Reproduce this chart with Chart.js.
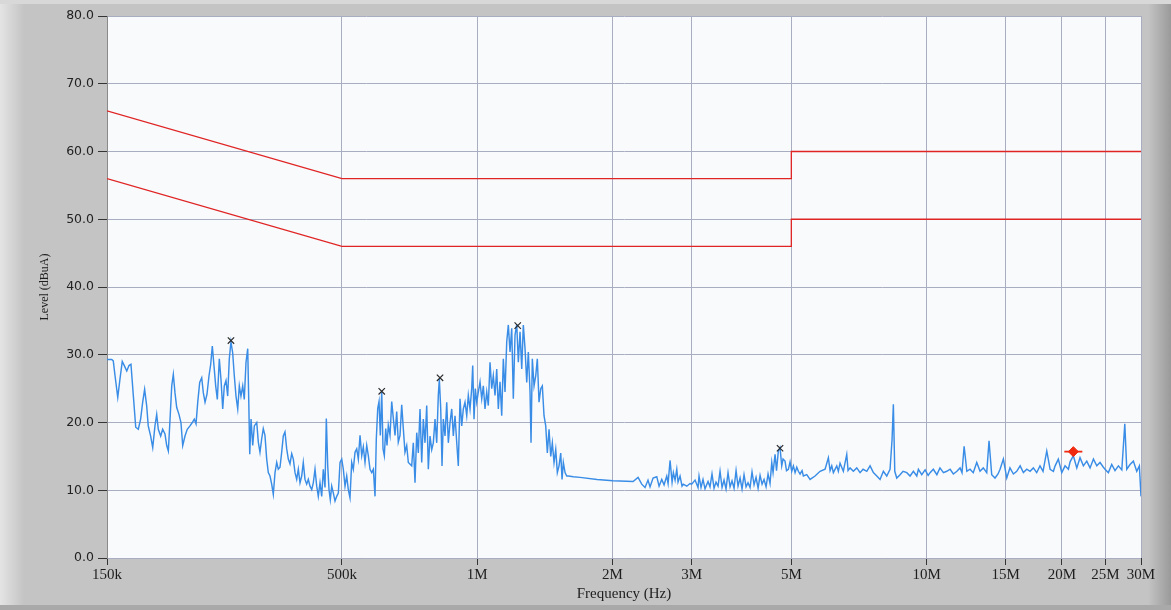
<!DOCTYPE html>
<html>
<head>
<meta charset="utf-8">
<script src="https://cdn.jsdelivr.net/npm/chart.js@4"></script>
<style>
  html, body { margin: 0; padding: 0; background: #c4c4c4; }
  #wrap { width: 1171px; height: 610px; }
</style>
</head>
<body>
<div id="wrap"><canvas id="emi" width="1171" height="610"></canvas></div>
<script>
// Conducted emission scan, frequency in kHz, level in dBuA
const scanFreqKHz = [
  150.0,153.7,154.9,156.3,158.5,160.3,162.2,163.9,166.0,167.9,169.6,171.7,173.8,176.1,178.2,180.1,181.9,183.8,185.3,187.6,
  189.6,191.8,193.5,195.1,197.5,199.5,201.9,203.7,205.4,207.2,209.0,210.7,212.5,214.4,216.9,219.1,221.1,223.7,226.3,229.5,
  232.2,234.6,236.7,238.8,241.2,243.7,245.7,247.9,250.4,253.0,255.2,257.3,259.5,261.8,264.0,266.7,269.1,271.4,273.6,276.0,
  278.4,280.7,283.1,285.6,288.0,290.5,293.1,295.5,298.0,300.7,303.1,305.8,308.5,310.1,311.7,313.8,316.5,319.1,323.1,
  325.7,328.5,331.4,334.1,337.0,340.0,342.8,345.8,348.8,351.7,354.8,357.9,360.8,364.0,367.1,370.2,373.4,376.7,379.8,383.1,
  386.5,389.7,393.1,396.5,399.8,403.3,406.8,410.1,413.7,417.3,420.8,424.5,428.2,431.7,435.5,439.3,442.9,446.8,450.7,454.4,
  458.4,461.5,464.8,467.9,471.0,474.4,478.3,482.5,486.7,490.8,495.1,499.4,503.5,507.9,512.3,516.5,521.0,525.6,529.9,534.6,
  539.3,543.7,548.5,553.3,557.8,562.7,567.6,572.3,577.3,582.4,587.2,592.3,596.2,600.6,604.6,608.6,613.0,617.1,621.2,625.7,
  629.8,634.0,639.6,645.2,650.5,656.2,661.9,667.3,673.2,679.1,684.7,690.6,696.7,702.5,
  714.8,720.7,727.0,733.4,739.4,745.9,752.4,758.6,765.2,771.9,778.3,785.1,792.0,798.5,805.5,812.5,819.2,823.5,829.4,834.9,
  840.5,847.9,855.3,862.3,869.9,877.5,884.7,892.4,900.3,907.6,915.6,923.6,931.2,939.3,947.6,955.3,963.7,972.1,977.1,983.7,
  990.2,997.4,1005.6,1014.4,1023.3,1031.7,1040.7,1049.8,1058.4,1067.7,1077.0,1085.9,1095.4,1105.0,1114.1,1123.8,1133.7,1143.0,1153.0,1163.1,
  1172.7,1182.9,1193.3,1203.1,1213.7,1224.3,1234.4,1245.2,1256.1,1266.4,1277.5,1288.7,1299.3,1310.7,1317.4,1326.2,1337.9,1349.6,1360.6,1372.5,
  1384.5,1395.9,1408.1,1420.4,1432.2,1444.7,1457.4,1469.4,1482.2,1495.2,1507.5,1520.7,1534.0,1544.3,1554.6,1568.2,1581.9,1594.9,1636.3,1693.4,
  1848,2005,2222,2280,2323,2363,2399,2424,2462,2509,2539,2574,2605,2641,2659,2686,2714,2732,2756,2780,
  2798,2827,2856,2875,2926,2975,3001,3053,3100,3116,
  3148,3180,3213,3263,3296,3330,3365,3399,3435,3470,3506,3542,3578,3615,3653,3690,3728,3767,3805,3845,
  3884,3924,3965,4005,4047,4088,4131,4173,4217,4260,4304,4348,4393,4438,4483,4523,4553,4600,4635,4678,
  4719,4760,4792,4841,4878,4925,4968,5011,5053,5097,5141,5183,5229,5283,5318,5411,5504,5647,5793,5944,
  6045,6098,6151,6202,6311,6362,6418,6527,6642,6687,6756,6871,6992,7111,7222,7360,7485,7613,7747,7878,
  8013,8153,8292,8378,8434,8495,8582,8729,8864,9034,9188,9345,9509,9588,9756,9923,10080,10180,10350,10540,
  10710,10900,11090,11280,11470,11680,11870,11990,12120,12290,12490,12700,12930,13150,13370,13610,13770,13960,14200,14420,
  14570,14820,15080,15330,15600,15870,16150,16420,16710,16990,17280,17580,17730,17880,18160,18510,18830,19150,19320,19640,
  19990,20330,20680,20860,21210,21590,21950,22330,22720,23110,23510,23920,24320,24740,24950,25380,25820,26260,26720,27190,
  27610,27890,28360,28850,29350,29750,30000
];
const scanLevel = [
  29.3,29.3,29.1,26.9,23.7,26.4,29.0,28.4,27.6,28.4,28.6,23.9,19.3,19.0,20.5,23.0,24.9,22.5,19.5,18.0,
  16.3,19.5,21.2,19.0,18.0,19.0,18.3,16.6,15.8,20.5,25.4,27.1,24.4,22.2,21.2,20.0,16.6,18.0,19.0,19.5,
  20.0,20.5,19.8,23.0,25.9,26.6,24.4,23.0,24.2,26.9,28.6,31.3,28.4,25.4,23.4,29.4,26.2,22.0,25.4,26.2,
  23.9,29.4,31.9,30.3,26.9,23.9,22.0,25.4,23.9,25.4,23.4,28.9,30.9,23.4,15.3,20.5,16.6,19.5,20.0,
  17.1,15.6,17.6,19.1,18.1,14.6,12.6,12.1,10.9,9.4,12.6,14.1,13.1,13.4,15.6,18.0,18.6,16.1,14.6,13.9,
  15.4,14.6,12.6,11.6,13.1,11.1,12.1,14.1,11.6,10.9,11.6,10.6,10.1,11.1,13.1,10.6,9.1,11.1,9.1,13.1,
  10.4,20.6,13.6,10.1,8.6,10.6,9.6,8.4,9.1,9.6,14.1,14.6,13.1,10.6,12.1,10.1,8.9,14.1,13.1,15.6,
  16.1,14.6,18.1,15.1,16.4,14.1,16.6,15.1,13.1,12.6,13.1,9.1,17.6,22.1,23.1,18.1,24.6,16.1,15.1,19.1,
  16.6,19.6,18.1,23.1,20.6,18.1,21.6,17.1,18.1,22.6,19.1,15.6,16.6,14.1,
  13.6,17.0,11.1,18.5,15.5,22.0,14.1,20.5,17.0,22.5,13.1,18.0,16.0,17.0,20.5,17.0,24.0,26.4,22.0,13.6,
  20.5,18.0,23.0,17.0,20.0,22.0,18.0,21.0,17.0,13.6,23.5,19.5,22.0,23.0,21.0,24.0,22.0,25.0,28.4,20.5,
  25.0,23.0,24.5,26.0,23.5,25.4,22.0,24.5,22.5,28.9,25.0,26.9,24.0,27.9,22.0,26.0,21.0,29.4,24.5,31.9,
  34.4,30.4,33.9,23.5,32.9,34.5,28.9,33.4,27.9,34.4,30.9,25.9,30.4,24.5,17.0,29.4,25.4,26.9,29.4,23.0,
  25.0,25.4,21.0,19.5,15.5,19.0,15.0,17.0,14.1,16.0,12.6,13.6,15.5,11.6,14.1,12.6,12.1,12.1,12.0,11.9,
  11.6,11.4,11.3,11.9,10.9,10.4,11.5,10.5,11.8,12.0,10.6,11.6,10.8,12.1,11.0,14.4,11.2,12.6,11.5,13.1,
  11.2,12.1,10.6,10.9,10.6,11.0,10.9,11.5,10.4,12.1,
  10.4,11.6,10.2,11.3,10.5,12.4,10.3,11.2,10.6,12.8,10.4,11.5,10.2,12.6,10.5,11.4,10.3,12.9,10.6,11.8,
  10.2,12.3,10.5,11.1,10.4,12.7,10.8,11.9,10.3,12.2,10.9,11.6,10.5,12.4,11.0,14.1,12.6,15.3,12.9,15.8,
  16.3,13.6,14.6,14.3,12.9,13.1,14.2,12.8,13.6,12.6,13.4,12.8,12.4,12.9,12.1,12.3,11.6,12.1,12.8,13.1,
  14.8,12.9,13.6,12.6,13.6,12.8,14.0,12.8,15.3,12.9,13.3,12.8,13.3,12.6,13.1,12.8,13.6,12.6,12.1,11.6,
  12.8,12.1,13.1,17.5,22.7,12.8,11.8,12.3,12.8,12.6,12.1,12.8,12.1,13.1,12.3,13.0,12.2,12.6,13.1,12.3,
  13.3,12.6,12.8,13.1,12.4,12.8,13.3,12.6,16.5,12.8,13.1,12.6,14.1,12.8,13.3,12.6,17.3,12.3,11.8,12.4,
  13.1,14.6,11.8,13.3,12.4,12.8,13.6,12.6,13.1,12.8,13.3,12.6,13.1,13.6,12.8,15.8,13.1,12.8,13.6,14.6,
  12.6,13.6,13.1,14.2,15.1,13.3,14.8,13.6,14.3,13.3,14.6,13.6,14.1,13.4,13.1,12.6,13.8,12.9,13.6,13.0,
  19.8,13.1,13.8,14.3,12.8,13.6,9.1
];

// Limit lines (upper: quasi-peak, lower: average)
const limitFreqKHz = [150, 500, 5000, 5000, 30000];
const qpLimit = [66, 56, 56, 60, 60];
const avgLimit = [56, 46, 46, 50, 50];

// Marked peaks
const peakFreqKHz = [283.1, 613.0, 826.4, 1230.6, 4719];
const peakLevel = [32.1, 24.6, 26.6, 34.3, 16.2];
const worstFreqKHz = [21210];
const worstLevel = [15.7];

// Axis ticks
const xTickValues = [150, 500, 1000, 2000, 3000, 5000, 10000, 15000, 20000, 25000, 30000];
const xTickLabels = ['150k', '500k', '1M', '2M', '3M', '5M', '10M', '15M', '20M', '25M', '30M'];
const yTickValues = [0, 10, 20, 30, 40, 50, 60, 70, 80];

const pairs = (xs, ys) => xs.map((x, i) => ({ x: x, y: ys[i] }));

const framePlugin = {
  id: 'frame',
  beforeDraw(chart) {
    const { ctx, width, height, chartArea: a } = chart;
    ctx.save();
    ctx.fillStyle = '#c4c4c4';
    ctx.fillRect(0, 0, width, height);
    let g = ctx.createLinearGradient(0, 0, 24, 0);
    g.addColorStop(0, '#e4e4e4');
    g.addColorStop(0.5, '#d4d4d4');
    g.addColorStop(1, '#c4c4c4');
    ctx.fillStyle = g;
    ctx.fillRect(0, 0, 24, height);
    g = ctx.createLinearGradient(1148, 0, width, 0);
    g.addColorStop(0, '#c4c4c4');
    g.addColorStop(1, '#9a9a9a');
    ctx.fillStyle = g;
    ctx.fillRect(1148, 0, width - 1148, height);
    ctx.fillStyle = '#d8d8d8';
    ctx.fillRect(0, 0, width, 4);
    ctx.fillStyle = '#a9a9a9';
    ctx.fillRect(0, height - 5, width, 5);
    ctx.fillStyle = '#f9fafc';
    ctx.fillRect(a.left, a.top, a.right - a.left, a.bottom - a.top);
    ctx.restore();
  }
};

new Chart(document.getElementById('emi'), {
  type: 'line',
  data: {
    datasets: [
      {
        data: pairs(worstFreqKHz, worstLevel),
        showLine: false,
        pointStyle: 'line',
        pointRadius: 9,
        borderColor: '#f02a10',
        borderWidth: 1.8
      },
      {
        data: pairs(worstFreqKHz, worstLevel),
        showLine: false,
        pointStyle: 'rectRot',
        pointRadius: 5,
        backgroundColor: '#f02a10',
        borderColor: '#f02a10',
        borderWidth: 1
      },
      {
        data: pairs(peakFreqKHz, peakLevel),
        showLine: false,
        pointStyle: 'crossRot',
        pointRadius: 4.5,
        borderColor: '#2a2a2a',
        borderWidth: 1.2
      },
      {
        data: pairs(scanFreqKHz, scanLevel),
        borderColor: '#3a8de6',
        borderWidth: 1.45,
        pointRadius: 0,
        tension: 0
      },
      {
        data: pairs(limitFreqKHz, qpLimit),
        borderColor: '#e02424',
        borderWidth: 1.3,
        pointRadius: 0,
        tension: 0
      },
      {
        data: pairs(limitFreqKHz, avgLimit),
        borderColor: '#e02424',
        borderWidth: 1.3,
        pointRadius: 0,
        tension: 0
      }
    ]
  },
  options: {
    responsive: false,
    animation: false,
    devicePixelRatio: 1,
    layout: { padding: { left: 0, right: 30, top: 16, bottom: 0 } },
    plugins: { legend: { display: false }, tooltip: { enabled: false } },
    scales: {
      x: {
        type: 'logarithmic',
        min: 150,
        max: 30000,
        afterBuildTicks(scale) {
          scale.ticks = xTickValues.map(v => ({ value: v }));
        },
        afterFit(scale) { scale.height = 52; },
        ticks: {
          autoSkip: false,
          maxRotation: 0,
          padding: 1,
          color: '#1e1e1e',
          font: { family: 'Liberation Serif', size: 15 },
          callback(value) {
            const i = xTickValues.indexOf(value);
            return i >= 0 ? xTickLabels[i] : '';
          }
        },
        grid: { color: '#a9adc2', lineWidth: 1, tickLength: 7, tickColor: '#333333', drawTicks: true },
        border: { display: false },
        title: {
          display: true,
          text: 'Frequency (Hz)',
          color: '#1e1e1e',
          font: { family: 'Liberation Serif', size: 15 },
          padding: { top: 0, bottom: 7 }
        }
      },
      y: {
        min: 0,
        max: 80,
        afterBuildTicks(scale) {
          scale.ticks = yTickValues.map(v => ({ value: v }));
        },
        afterFit(scale) { scale.width = 107; },
        ticks: {
          padding: 4,
          color: '#222222',
          font: { family: 'DejaVu Sans', size: 12.5 },
          callback(value) { return Number(value).toFixed(1); }
        },
        grid: { color: '#a9adc2', lineWidth: 1, tickLength: 9, tickColor: '#333333' },
        border: { display: true, color: '#8a8a8a', width: 1 },
        title: {
          display: true,
          text: 'Level (dBuA)',
          color: '#1e1e1e',
          font: { family: 'Liberation Serif', size: 12 },
          padding: { top: 38, bottom: 0 }
        }
      }
    }
  },
  plugins: [framePlugin]
});
</script>
</body>
</html>
